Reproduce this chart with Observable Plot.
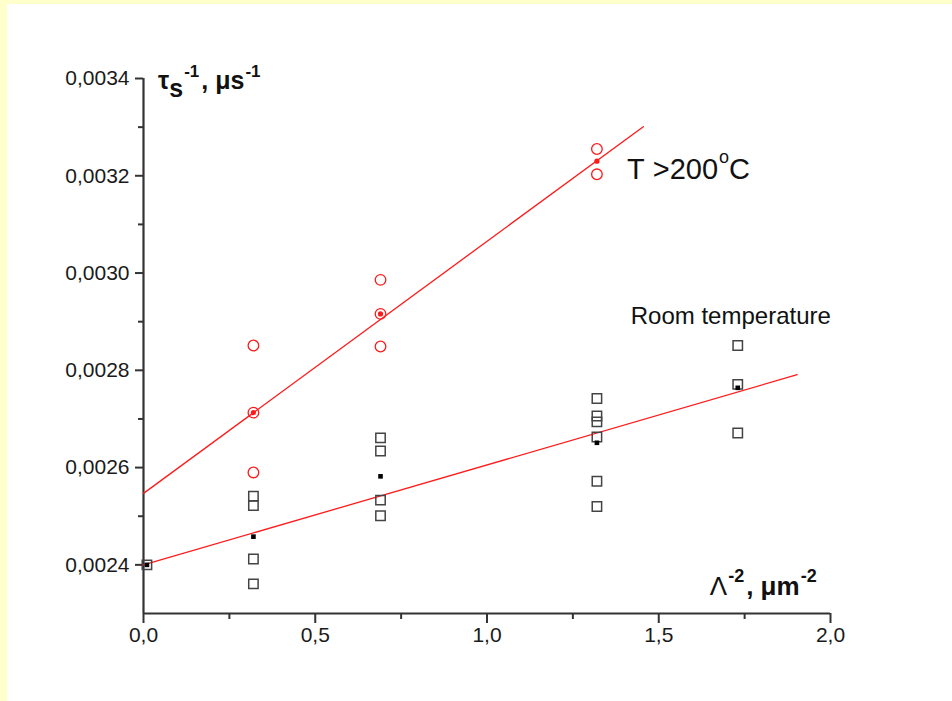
<!DOCTYPE html>
<html>
<head>
<meta charset="utf-8">
<script src="https://cdn.jsdelivr.net/npm/d3@7"></script>
<script src="https://cdn.jsdelivr.net/npm/@observablehq/plot@0.6"></script>
<style>
  html, body { margin: 0; padding: 0; background: #FFFFCC; width: 952px; height: 701px; overflow: hidden; }
  #chart { position: absolute; left: 7px; top: 4px; width: 945px; height: 697px; background: #fff; }
</style>
</head>
<body>
<div id="chart"></div>
<script>
// ---- data ----
// T > 200°C : open circles (individual measurements)
const hotX = [0.32, 0.32, 0.32, 0.69, 0.69, 0.69, 1.32, 1.32];
const hotY = [0.002851, 0.002713, 0.002590, 0.002986, 0.002916, 0.002849, 0.003255, 0.003203];
// T > 200°C : mean values (small filled dots)
const hotMeanX = [0.32, 0.69, 1.32];
const hotMeanY = [0.002713, 0.002916, 0.003230];
// Room temperature : open squares
const roomX = [0.01, 0.32, 0.32, 0.32, 0.32, 0.69, 0.69, 0.69, 0.69,
               1.32, 1.32, 1.32, 1.32, 1.32, 1.32, 1.73, 1.73, 1.73];
const roomY = [0.002400, 0.002541, 0.002522, 0.002412, 0.002361, 0.002661, 0.002634, 0.002533, 0.002501,
               0.002742, 0.002706, 0.002694, 0.002663, 0.002572, 0.002520, 0.002851, 0.002771, 0.002671];
// Room temperature : mean values (small filled squares)
const roomMeanX = [0.01, 0.32, 0.69, 1.32, 1.73];
const roomMeanY = [0.002400, 0.002458, 0.002582, 0.002651, 0.002764];
// linear fits (end points)
const hotFitX = [0, 1.455];
const hotFitY = [0.002547, 0.003301];
const roomFitX = [0, 1.903];
const roomFitY = [0.002400, 0.002791];
// axes
const xDomain = [0, 2];
const yDomain = [0.0023, 0.0034];
const xMajor = [0, 0.5, 1, 1.5, 2];
const xMinor = [0.25, 0.75, 1.25, 1.75];
const yMajor = [0.0024, 0.0026, 0.0028, 0.0030, 0.0032, 0.0034];
const yMinor = [0.0025, 0.0027, 0.0029, 0.0031, 0.0033];

const hot = hotX.map((x, i) => ({x, y: hotY[i]}));
const hotMean = hotMeanX.map((x, i) => ({x, y: hotMeanY[i]}));
const room = roomX.map((x, i) => ({x, y: roomY[i]}));
const roomMean = roomMeanX.map((x, i) => ({x, y: roomMeanY[i]}));
const hotFit = hotFitX.map((x, i) => ({x, y: hotFitY[i]}));
const roomFit = roomFitX.map((x, i) => ({x, y: roomFitY[i]}));

const fmtX = d => d3.format(".1f")(d).replace(".", ",");
const fmtY = d => d3.format(".4f")(d).replace(".", ",");
const AX = "#333";
const RED = "#ff1a1a";
const FONT = "'Liberation Sans', Arial, sans-serif";

const plot = Plot.plot({
  width: 945,
  height: 697,
  marginLeft: 136,
  marginTop: 74,
  marginRight: 122,
  marginBottom: 88,
  style: {background: "#fff", fontFamily: FONT, fontSize: "21px", color: "#1a1a1a"},
  x: {domain: xDomain, axis: null},
  y: {domain: yDomain, axis: null},
  marks: [
    Plot.axisX({ticks: xMinor, tickSize: 6, text: null, stroke: AX, strokeWidth: 2, label: null}),
    Plot.axisX({ticks: xMajor, tickSize: 10, tickPadding: 4, tickFormat: fmtX, stroke: AX, strokeWidth: 2, label: null, fill: "#1a1a1a"}),
    Plot.axisY({ticks: yMinor, tickSize: 5, text: null, stroke: AX, strokeWidth: 2, label: null}),
    Plot.axisY({ticks: yMajor, tickSize: 8, tickPadding: 6, tickFormat: fmtY, stroke: AX, strokeWidth: 2, label: null, fill: "#1a1a1a"}),
    Plot.ruleY([yDomain[0]], {stroke: AX, strokeWidth: 2.2}),
    Plot.ruleX([xDomain[0]], {stroke: AX, strokeWidth: 2.2}),
    Plot.line(hotFit, {x: "x", y: "y", stroke: RED, strokeWidth: 1.3}),
    Plot.line(roomFit, {x: "x", y: "y", stroke: RED, strokeWidth: 1.3}),
    Plot.dot(room, {x: "x", y: "y", symbol: "square", r: 5.3, stroke: "#444", strokeWidth: 1.5, fill: "none"}),
    Plot.dot(roomMean, {x: "x", y: "y", symbol: "square", r: 2.6, fill: "#000", stroke: "none"}),
    Plot.dot(hot, {x: "x", y: "y", r: 5.3, stroke: RED, strokeWidth: 1.3, fill: "none"}),
    Plot.dot(hotMean, {x: "x", y: "y", r: 2.6, fill: RED, stroke: "none"})
  ]
});
document.getElementById("chart").appendChild(plot);

// ---- annotations with sub/superscripts ----
const labelTau = [{t: "τ"}, {t: "s", sub: true}, {t: "-1", sup: true, dx: 1}, {t: ", μs", dx: 2}, {t: "-1", sup: true, dx: 1}];
const labelLambda = [{t: "Λ", weight: "normal"}, {t: "-2", sup: true, dx: 1}, {t: ", μm", dx: 2}, {t: "-2", sup: true, dx: 1}];
const labelHot = [{t: "T", weight: "300"}, {t: " >200"}, {t: "o", sup: true, dx: 1}, {t: "C"}];
const labelRoom = [{t: "Room temperature"}];
const annX = [0.044, 1.650, 1.409, 1.420];
const annY = [0.003378, 0.002336, 0.003193, 0.002895];

const xs = plot.scale("x"), ys = plot.scale("y");
const svg = d3.select(plot);
function rich(segs, i, o) {
  const t = svg.append("text")
    .attr("x", xs.apply(annX[i])).attr("y", ys.apply(annY[i]))
    .attr("text-anchor", "start")
    .attr("font-family", FONT)
    .attr("font-size", o.size).attr("font-weight", o.weight || "normal")
    .attr("fill", "#111");
  let shift = 0;
  for (const s of segs) {
    const target = s.sup ? -o.sup : s.sub ? o.sub : 0;
    const ts = t.append("tspan").attr("dy", target - shift).text(s.t);
    if (s.dx) ts.attr("dx", s.dx);
    if (s.weight) ts.attr("font-weight", s.weight);
    if (s.sup) ts.attr("font-size", o.small);
    shift = target;
  }
}
rich(labelTau, 0, {size: 25, small: 17, weight: "bold", sup: 12, sub: 8});
rich(labelLambda, 1, {size: 26, small: 18, weight: "bold", sup: 13, sub: 0});
rich(labelHot, 2, {size: 29, small: 18, weight: "normal", sup: 16, sub: 0});
rich(labelRoom, 3, {size: 24, small: 15, weight: "normal", sup: 0, sub: 0});
</script>
</body>
</html>
